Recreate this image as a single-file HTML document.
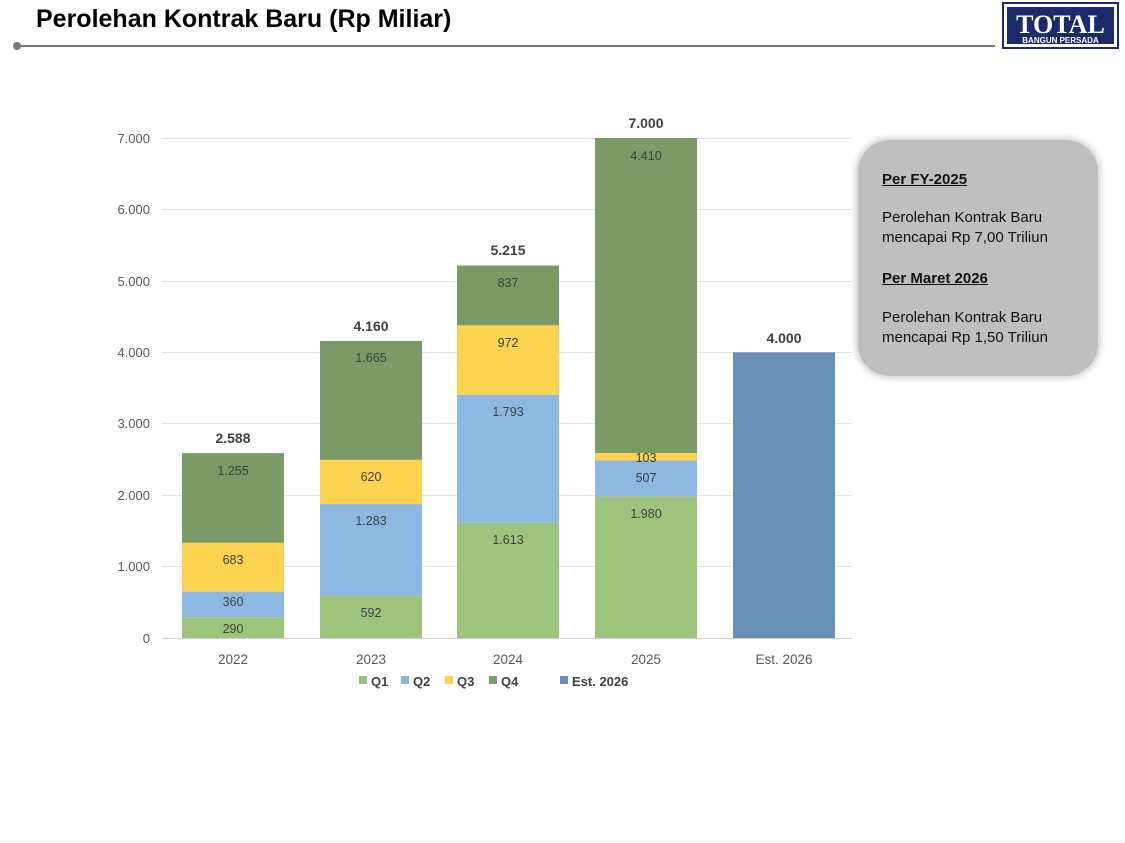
<!DOCTYPE html>
<html><head><meta charset="utf-8"><style>
body{margin:0;width:1125px;height:843px;background:#fff;position:relative;overflow:hidden;font-family:"Liberation Sans",sans-serif}
.title{position:absolute;left:36px;top:5px;font-size:25px;font-weight:bold;color:#000}
.box{position:absolute;left:858px;top:140px;width:240px;height:236px;background:#bfbfbf;border-radius:32px;box-shadow:0 0 6px 3px #d6d6d6;font-size:15px;color:#111;line-height:20px}
.box p{margin:0;position:absolute;left:24px}
</style></head><body>
<div class="title">Perolehan Kontrak Baru (Rp Miliar)</div>
<svg width="1125" height="843" style="position:absolute;left:0;top:0">
<line x1="17" y1="46" x2="995" y2="46" stroke="#777" stroke-width="2"/>
<circle cx="17" cy="46" r="4" fill="#777"/>
<rect x="1003" y="3" width="115" height="45" fill="#fff" stroke="#1b2a6b" stroke-width="2"/>
<rect x="1007" y="7" width="107" height="37" fill="#1b2a6b"/>
<text x="1060.5" y="33" text-anchor="middle" font-family="Liberation Serif,serif" font-weight="bold" font-size="26" fill="#fff">TOTAL</text>
<text x="1060.5" y="43" text-anchor="middle" font-family="Liberation Sans,sans-serif" font-weight="bold" font-size="8" fill="#fff">BANGUN PERSADA</text>
<g stroke="#e3e3e3" stroke-width="1">
<line x1="162" x2="852" y1="566.5" y2="566.5"/><line x1="162" x2="852" y1="495.5" y2="495.5"/>
<line x1="162" x2="852" y1="423.5" y2="423.5"/><line x1="162" x2="852" y1="352.5" y2="352.5"/>
<line x1="162" x2="852" y1="281.5" y2="281.5"/><line x1="162" x2="852" y1="209.5" y2="209.5"/>
<line x1="162" x2="852" y1="138.5" y2="138.5"/></g>
<g font-size="13" fill="#595959" text-anchor="end">
<text x="150" y="643">0</text><text x="150" y="571">1.000</text><text x="150" y="500">2.000</text>
<text x="150" y="428">3.000</text><text x="150" y="357">4.000</text><text x="150" y="286">5.000</text>
<text x="150" y="214">6.000</text><text x="150" y="143">7.000</text></g>
<g>
<rect x="182" y="617.3" width="102" height="20.7" fill="#9dc47c"/>
<rect x="182" y="591.6" width="102" height="25.7" fill="#8cb8e2"/>
<rect x="182" y="542.8" width="102" height="48.8" fill="#fdd44f"/>
<rect x="182" y="453.1" width="102" height="89.7" fill="#7a9a66"/>
<rect x="320" y="595.7" width="102" height="42.3" fill="#9dc47c"/>
<rect x="320" y="504.1" width="102" height="91.6" fill="#8cb8e2"/>
<rect x="320" y="459.8" width="102" height="44.3" fill="#fdd44f"/>
<rect x="320" y="340.9" width="102" height="118.9" fill="#7a9a66"/>
<rect x="457" y="522.8" width="102" height="115.2" fill="#9dc47c"/>
<rect x="457" y="394.7" width="102" height="128.1" fill="#8cb8e2"/>
<rect x="457" y="325.3" width="102" height="69.4" fill="#fdd44f"/>
<rect x="457" y="265.5" width="102" height="59.8" fill="#7a9a66"/>
<rect x="595" y="496.6" width="102" height="141.4" fill="#9dc47c"/>
<rect x="595" y="460.4" width="102" height="36.2" fill="#8cb8e2"/>
<rect x="595" y="453" width="102" height="7.4" fill="#fdd44f"/>
<rect x="595" y="138" width="102" height="315" fill="#7a9a66"/>
<rect x="733" y="352.3" width="102" height="285.7" fill="#6890b6"/>
</g>
<line x1="162" x2="852" y1="638.5" y2="638.5" stroke="#d0d0d0"/>
<g font-size="12.5" fill="#404040" text-anchor="middle">
<text x="233" y="633">290</text><text x="233" y="606">360</text><text x="233" y="564">683</text><text x="233" y="475">1.255</text>
<text x="371" y="617">592</text><text x="371" y="525">1.283</text><text x="371" y="481">620</text><text x="371" y="362">1.665</text>
<text x="508" y="544">1.613</text><text x="508" y="416">1.793</text><text x="508" y="347">972</text><text x="508" y="287">837</text>
<text x="646" y="518">1.980</text><text x="646" y="482">507</text><text x="646" y="462">103</text><text x="646" y="160">4.410</text>
</g>
<g font-size="14" font-weight="bold" fill="#404040" text-anchor="middle">
<text x="233" y="443">2.588</text><text x="371" y="331">4.160</text><text x="508" y="255">5.215</text>
<text x="646" y="128">7.000</text><text x="784" y="343">4.000</text></g>
<g font-size="13.5" fill="#595959" text-anchor="middle">
<text x="233" y="664">2022</text><text x="371" y="664">2023</text><text x="508" y="664">2024</text>
<text x="646" y="664">2025</text><text x="784" y="664">Est. 2026</text></g>
<g font-size="13" font-weight="bold" fill="#404040">
<rect x="359" y="676" width="8" height="8" fill="#9dc47c"/><text x="371" y="686">Q1</text>
<rect x="401" y="676" width="8" height="8" fill="#8cb8e2"/><text x="413" y="686">Q2</text>
<rect x="445" y="676" width="8" height="8" fill="#fdd44f"/><text x="457" y="686">Q3</text>
<rect x="489" y="676" width="8" height="8" fill="#7a9a66"/><text x="501" y="686">Q4</text>
<rect x="560" y="676" width="8" height="8" fill="#6890b6"/><text x="572" y="686">Est. 2026</text></g>
<line x1="0" x2="1125" y1="841.5" y2="841.5" stroke="#eee"/>
</svg>
<div class="box">
<p style="top:30px;font-weight:bold;text-decoration:underline">Per FY-2025</p>
<p style="top:68px">Perolehan Kontrak Baru<br>mencapai Rp 7,00 Triliun</p>
<p style="top:129px;font-weight:bold;text-decoration:underline">Per Maret 2026</p>
<p style="top:168px">Perolehan Kontrak Baru<br>mencapai Rp 1,50 Triliun</p>
</div>
</body></html>
